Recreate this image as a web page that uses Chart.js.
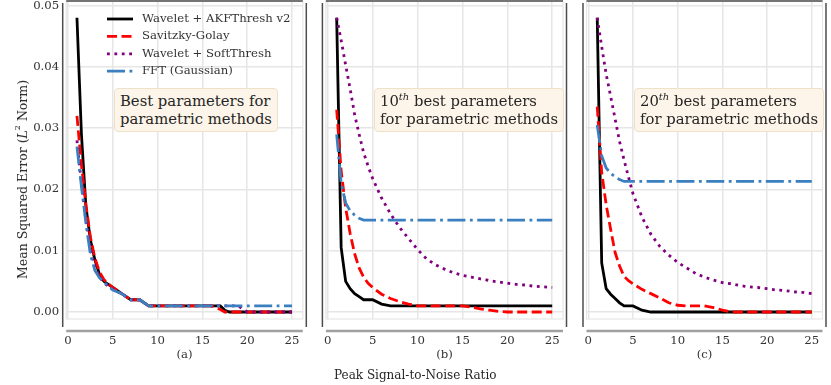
<!DOCTYPE html>
<html>
<head>
<meta charset="utf-8">
<script src="https://cdn.jsdelivr.net/npm/chart.js@4.4.0/dist/chart.umd.min.js"></script>
<style>
  html, body { margin: 0; padding: 0; background: #fff; }
  #wrap { position: relative; width: 831px; height: 385px; overflow: hidden;
          font-family: 'DejaVu Serif', serif; color: #333; }
  #wrap canvas { position: absolute; top: 0; }
  .note { position: absolute; background: #fdf5e9; border: 1px solid #efe0c8; border-radius: 4px;
          font-size: 14.8px; line-height: 17.5px; padding: 3px 5px 4px 5px; color: #262626; white-space: nowrap; }
  .note sup { font-size: 10px; font-style: italic; line-height: 0; }
  .ytitle { position: absolute; left: 15px; top: 80px; writing-mode: vertical-rl; transform: rotate(180deg);
            font-size: 12.5px; line-height: 15px; white-space: nowrap; color: #262626; }
  .ytitle sup { font-size: 8px; line-height: 0; }
  .xtitle { position: absolute; left: 334px; top: 368px;
            font-size: 12px; white-space: nowrap; color: #262626; }
</style>
</head>
<body>
<div id="wrap">
  <canvas id="chart-a" width="318" height="385" style="left:0px"></canvas>
  <canvas id="chart-b" width="268" height="385" style="left:310px"></canvas>
  <canvas id="chart-c" width="261" height="385" style="left:570px"></canvas>

  <div class="note" style="left:114px; top:88px;">Best parameters for<br>parametric methods</div>
  <div class="note" style="left:374px; top:88px;">10<sup>th</sup> best parameters<br>for parametric methods</div>
  <div class="note" style="left:634px; top:88px;">20<sup>th</sup> best parameters<br>for parametric methods</div>

  <div class="ytitle">Mean Squared Error (<i>L</i><sup>2</sup> Norm)</div>
  <div class="xtitle">Peak Signal-to-Noise Ratio</div>
</div>

<script>
// ======================================
// DATA
// ======================================

const snr = [1, 1.5, 2, 2.5, 3, 3.5, 4, 4.5, 5, 6, 7, 8, 9, 10, 11, 12, 13, 14, 15, 16, 17, 17.5, 18, 19, 19.5, 20, 21, 22, 23, 24, 25];

const seriesNames = ["Wavelet + AKFThresh v2", "Savitzky-Golay", "Wavelet + SoftThresh", "FFT (Gaussian)"];
const panelLabels = ["(a)", "(b)", "(c)"];

// (a) best parameters
const akfA  = [0.048, 0.029, 0.0172, 0.0118, 0.0085, 0.0062, 0.005, 0.0045, 0.004, 0.003, 0.002, 0.002, 0.001, 0.001, 0.001, 0.001, 0.001, 0.001, 0.001, 0.001, 0.001, 0.0003, 0, 0, 0, 0, 0, 0, 0, 0, 0];
const sgA   = [0.032, 0.024, 0.0175, 0.0122, 0.0088, 0.0066, 0.0053, 0.0046, 0.004, 0.003, 0.002, 0.002, 0.001, 0.001, 0.001, 0.001, 0.001, 0.001, 0.001, 0.001, 0.0004, 0, 0, 0, 0, 0, 0, 0, 0, 0, 0];
const softA = [0.028, 0.021, 0.015, 0.0102, 0.0074, 0.0058, 0.0048, 0.0042, 0.0037, 0.003, 0.002, 0.002, 0.001, 0.001, 0.001, 0.001, 0.001, 0.001, 0.001, 0.001, 0.001, 0.001, 0.001, 0.001, 0.0005, 0, 0, 0, 0, 0, 0];
const fftA  = [0.027, 0.0205, 0.0145, 0.0094, 0.0068, 0.0056, 0.0049, 0.0042, 0.0036, 0.003, 0.002, 0.002, 0.001, 0.001, 0.001, 0.001, 0.001, 0.001, 0.001, 0.001, 0.001, 0.001, 0.001, 0.001, 0.001, 0.001, 0.001, 0.001, 0.001, 0.001, 0.001];

// (b) 10th best parameters
const akfB  = [0.048, 0.0105, 0.005, 0.0038, 0.003, 0.0025, 0.002, 0.002, 0.002, 0.0013, 0.001, 0.001, 0.001, 0.001, 0.001, 0.001, 0.001, 0.001, 0.001, 0.001, 0.001, 0.001, 0.001, 0.001, 0.001, 0.001, 0.001, 0.001, 0.001, 0.001, 0.001];
const sgB   = [0.033, 0.023, 0.017, 0.0128, 0.0095, 0.0072, 0.0057, 0.0047, 0.004, 0.0029, 0.0022, 0.0017, 0.0013, 0.001, 0.001, 0.001, 0.001, 0.001, 0.001, 0.0008, 0.0005, 0.0004, 0.0003, 0.0001, 0.00005, 0, 0, 0, 0, 0, 0];
const softB = [0.048, 0.0443, 0.0403, 0.0364, 0.0322, 0.029, 0.026, 0.0238, 0.0218, 0.0186, 0.016, 0.0138, 0.012, 0.0102, 0.0087, 0.0077, 0.007, 0.0064, 0.006, 0.0057, 0.0054, 0.0053, 0.0051, 0.0049, 0.0048, 0.0047, 0.0045, 0.0044, 0.0042, 0.0041, 0.004];
const fftB  = [0.029, 0.021, 0.0178, 0.0165, 0.0158, 0.0153, 0.015, 0.015, 0.015, 0.015, 0.015, 0.015, 0.015, 0.015, 0.015, 0.015, 0.015, 0.015, 0.015, 0.015, 0.015, 0.015, 0.015, 0.015, 0.015, 0.015, 0.015, 0.015, 0.015, 0.015, 0.015];

// (c) 20th best parameters
const akfC  = [0.048, 0.008, 0.0038, 0.0029, 0.0022, 0.0015, 0.001, 0.001, 0.001, 0.0003, 0, 0, 0, 0, 0, 0, 0, 0, 0, 0, 0, 0, 0, 0, 0, 0, 0, 0, 0, 0, 0];
const sgC   = [0.0335, 0.0228, 0.0175, 0.0135, 0.0097, 0.0075, 0.0058, 0.0051, 0.0046, 0.0037, 0.003, 0.0023, 0.0015, 0.0011, 0.001, 0.001, 0.001, 0.0007, 0.0003, 0, 0, 0, 0, 0, 0, 0, 0, 0, 0, 0, 0];
const softC = [0.048, 0.0433, 0.0388, 0.0352, 0.0315, 0.0278, 0.0248, 0.022, 0.0193, 0.0155, 0.0127, 0.0107, 0.0093, 0.0081, 0.0072, 0.0063, 0.0057, 0.0052, 0.0048, 0.0046, 0.0043, 0.0042, 0.0041, 0.004, 0.0039, 0.0038, 0.0036, 0.0035, 0.0033, 0.0032, 0.003];
const fftC  = [0.0305, 0.0255, 0.0235, 0.0226, 0.0221, 0.0216, 0.0213, 0.0213, 0.0213, 0.0213, 0.0213, 0.0213, 0.0213, 0.0213, 0.0213, 0.0213, 0.0213, 0.0213, 0.0213, 0.0213, 0.0213, 0.0213, 0.0213, 0.0213, 0.0213, 0.0213, 0.0213, 0.0213, 0.0213, 0.0213, 0.0213];

const panelSeries = [
    [akfA, sgA, softA, fftA],
    [akfB, sgB, softB, fftB],
    [akfC, sgC, softC, fftC]
];


// ======================================
// STYLE / LAYOUT
// ======================================

const lineStyles = [
    { color: "#000000", dash: [] },
    { color: "#ff0000", dash: [10, 4.5] },
    { color: "#800080", dash: [2.8, 4.6] },
    { color: "#3a80c0", dash: [18, 4.5, 2.8, 4.5] }
];

// plot area in page pixels, per panel; canvas offset on page
const layout = [
    { canvas: "chart-a", offset: 0,   width: 318, left: 66.2,  right: 302.8, yLabels: true },
    { canvas: "chart-b", offset: 310, width: 268, left: 325.9, right: 563.0, yLabels: false },
    { canvas: "chart-c", offset: 570, width: 261, left: 586.5, right: 822.5, yLabels: false }
];
const plotTop = 1;
const plotBottom = 319;

const gridColor = "#e6e6e6";
const textColor = "#333333";

Chart.defaults.font.family = "'DejaVu Serif', serif";
Chart.defaults.font.size = 11.7;
Chart.defaults.color = textColor;


// spines drawn outside the plot area, like the original figure
const spinesPlugin = {
    id: "spines",
    beforeDatasetsDraw(chart) {
        const a = chart.chartArea;
        const ctx = chart.ctx;
        ctx.save();
        ctx.strokeStyle = gridColor;
        ctx.lineWidth = 1.2;
        ctx.strokeRect(a.left, a.top, a.right - a.left, a.bottom - a.top);
        ctx.restore();
    },
    afterDraw(chart) {
        const a = chart.chartArea;
        const ctx = chart.ctx;
        ctx.save();
        ctx.strokeStyle = "#4d4d4d";
        ctx.lineWidth = 1.5;
        ctx.beginPath();
        ctx.moveTo(a.left - 3.5, 3);
        ctx.lineTo(a.left - 3.5, 327);
        ctx.moveTo(a.right + 3.5, 3);
        ctx.lineTo(a.right + 3.5, 327);
        ctx.moveTo(a.left, 1);
        ctx.lineTo(a.right, 1);
        ctx.stroke();

        ctx.strokeStyle = "#a0a0a0";
        ctx.lineWidth = 2.5;
        ctx.beginPath();
        ctx.moveTo(a.left, 331);
        ctx.lineTo(a.right, 331);
        ctx.stroke();
        ctx.restore();
    }
};

// legend inside panel (a)
const legendPlugin = {
    id: "innerLegend",
    afterDraw(chart) {
        if (chart.canvas.id !== "chart-a") return;
        const ctx = chart.ctx;
        ctx.save();
        seriesNames.forEach(function (name, i) {
            const y = 19 + i * 17.4;
            ctx.strokeStyle = lineStyles[i].color;
            ctx.lineWidth = 2.8;
            ctx.setLineDash(lineStyles[i].dash);
            ctx.beginPath();
            ctx.moveTo(107, y);
            ctx.lineTo(133, y);
            ctx.stroke();
            ctx.setLineDash([]);
            ctx.fillStyle = textColor;
            ctx.font = "11.7px 'DejaVu Serif', serif";
            ctx.textBaseline = "middle";
            ctx.fillText(name, 142, y);
        });
        ctx.restore();
    }
};


// ======================================
// BUILD THE THREE PANELS
// ======================================

layout.forEach(function (p, k) {
    const localLeft = p.left - p.offset;
    const localRight = p.right - p.offset;

    const datasets = panelSeries[k].map(function (values, i) {
        return {
            label: seriesNames[i],
            data: snr.map(function (x, j) { return { x: x, y: values[j] }; }),
            borderColor: lineStyles[i].color,
            borderDash: lineStyles[i].dash,
            borderWidth: 2.8,
            borderCapStyle: "butt",
            pointRadius: 0,
            fill: false,
            tension: 0,
            order: 4 - i
        };
    });

    new Chart(document.getElementById(p.canvas), {
        type: "line",
        data: { datasets: datasets },
        options: {
            responsive: false,
            animation: false,
            layout: {
                autoPadding: false,
                padding: { left: 0, right: p.width - localRight, top: plotTop, bottom: 0 }
            },
            scales: {
                x: {
                    type: "linear",
                    min: -0.2,
                    max: 26.2,
                    grid: { color: gridColor, lineWidth: 1.5, drawTicks: false },
                    border: { display: false },
                    ticks: { stepSize: 5, includeBounds: false, padding: 15, maxRotation: 0 },
                    title: { display: true, text: panelLabels[k], padding: { top: 0, bottom: 23 },
                             font: { size: 11.7 } },
                    afterFit: function (scale) {
                        scale.height = 385 - plotBottom;
                        scale.paddingLeft = 0;
                        scale.paddingRight = 0;
                    }
                },
                y: {
                    min: -0.00114,
                    max: 0.05074,
                    grid: { color: gridColor, lineWidth: 1.5, drawTicks: false },
                    border: { display: false },
                    ticks: {
                        display: p.yLabels,
                        stepSize: 0.01,
                        includeBounds: false,
                        padding: 7,
                        callback: function (v) { return v.toFixed(2); }
                    },
                    afterFit: function (scale) {
                        scale.width = localLeft;
                        scale.paddingTop = 0;
                        scale.paddingBottom = 0;
                    }
                }
            },
            plugins: {
                legend: { display: false },
                tooltip: { enabled: false }
            }
        },
        plugins: [spinesPlugin, legendPlugin]
    });
});
</script>
</body>
</html>
